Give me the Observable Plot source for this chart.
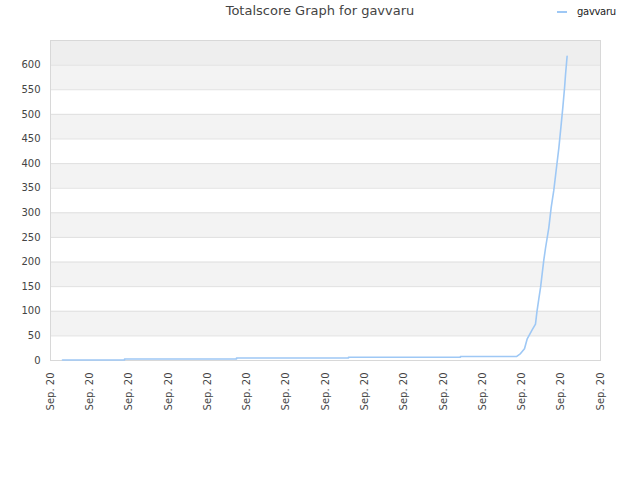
<!DOCTYPE html>
<html>
<head>
<meta charset="utf-8">
<script src="https://cdn.jsdelivr.net/npm/d3@7"></script>
<script src="https://cdn.jsdelivr.net/npm/@observablehq/plot@0.6"></script>
<style>
  body { margin: 0; background: #fff; font-family: "DejaVu Sans", sans-serif; }
  #wrap { position: relative; width: 640px; height: 480px; }
  #title { position: absolute; left: 0; top: 3px; width: 640px; text-align: center; font-size: 13px; color: #444; }
  #legend { position: absolute; left: 557px; top: 6px; font-size: 10px; color: #222; display: flex; align-items: center; letter-spacing: -0.3px; }
  #legend span.sw { display: inline-block; width: 10px; height: 2px; background: #9ec8f5; margin-right: 10px; }
  #chart { position: absolute; left: 0; top: 30px; }
</style>
</head>
<body>
<div id="wrap">
  <div id="title">Totalscore Graph for gavvaru</div>
  <div id="legend"><span class="sw"></span>gavvaru</div>
  <div id="chart"></div>
</div>
<script>
// x: days since 1 Sep (2020), y: total score
const seriesName = "gavvaru";
const days = [0.61, 3.77, 3.77, 9.47, 9.47, 15.17, 15.17, 20.87, 20.87, 23.72, 23.93, 24.13, 24.27, 24.52, 24.69, 24.77, 24.86, 24.95, 25.03, 25.11, 25.2, 25.37, 25.49, 25.62, 25.76, 25.88, 26.0, 26.08, 26.17, 26.22, 26.3];
const scores = [1, 1, 3, 3, 5, 5, 6.5, 6.5, 8, 8, 14, 24, 44, 62, 74, 101, 125, 149, 176, 203, 228, 270, 311, 345, 392, 432, 480, 513, 554, 581, 618];
const xTicks = [0, 2, 4, 6, 8, 10, 12, 14, 16, 18, 20, 22, 24, 26, 28];
const xTickLabel = "Sep. 20";
const yTicks = [0, 50, 100, 150, 200, 250, 300, 350, 400, 450, 500, 550, 600];
const bandLow = [50, 150, 250, 350, 450, 550];
const bandHigh = [100, 200, 300, 400, 500, 600];
const topBand = [600, 650];

const data = days.map((d, i) => ({x: d, y: scores[i]}));
const bands = bandLow.map((lo, i) => ({y1: lo, y2: bandHigh[i]}));

const chart = Plot.plot({
  width: 640,
  height: 450,
  marginTop: 10,
  marginBottom: 120,
  marginLeft: 50,
  marginRight: 40,
  style: {fontFamily: "DejaVu Sans, sans-serif", fontSize: "10px", color: "#444", background: "transparent"},
  x: {domain: [0, 28], axis: null},
  y: {domain: [0, 650], axis: null},
  marks: [
    Plot.rectY(bands, {x1: 0, x2: 28, y1: "y1", y2: "y2", fill: "#f3f3f3"}),
    Plot.rectY([{y1: topBand[0], y2: topBand[1]}], {x1: 0, x2: 28, y1: "y1", y2: "y2", fill: "#eeeeee"}),
    Plot.ruleY(yTicks.slice(1), {stroke: "#e0e0e0", strokeWidth: 1}),
    Plot.frame({stroke: "#d8d8d8"}),
    Plot.axisY(yTicks, {tickSize: 0, tickPadding: 10, tickFormat: d => d, fill: "#444", fontSize: 10, label: null}),
    Plot.axisX(xTicks, {tickSize: 0, tickPadding: 12, tickRotate: -90, tickFormat: () => xTickLabel, fill: "#444", fontSize: 10, label: null}),
    Plot.line(data, {x: "x", y: "y", stroke: "#9ec8f5", strokeWidth: 1.6})
  ]
});
document.getElementById("chart").appendChild(chart);
</script>
</body>
</html>
